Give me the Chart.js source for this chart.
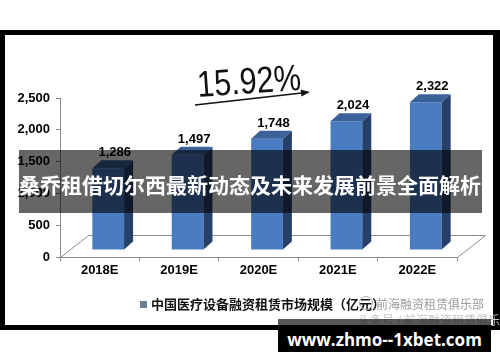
<!DOCTYPE html>
<html>
<head>
<meta charset="utf-8">
<script src="https://cdn.jsdelivr.net/npm/chart.js@4.4.1/dist/chart.umd.min.js"></script>
<style>
  html, body { margin: 0; padding: 0; background: #fff; }
  #wrap { position: relative; width: 500px; height: 362px; overflow: hidden; background: #fff; }
  #frame { position: absolute; left: 0; top: 30px; width: 488px; height: 290px;
           border-style: solid; border-color: #000; border-width: 5px 7px 5px 5px; background: #fff; }
  #chart { position: absolute; left: 0; top: 0; }
  .legend { position: absolute; left: 140px; top: 294px; height: 18px; line-height: 18px;
            font: bold 13px "Noto Sans CJK SC", sans-serif; color: #111; white-space: nowrap; }
  .legend i { display: inline-block; width: 7px; height: 7px; background: #6b7d99; margin-right: 4px; vertical-align: 1px; }
  .mark { position: absolute; font: 12px "Noto Sans CJK SC", sans-serif; color: #9a9a9a; white-space: nowrap; }
  .logo { position: absolute; left: 359px; top: 296px; width: 12px; height: 12px; border: 1px solid #aaa; border-radius: 50%; }
  .banner { position: absolute; left: 19px; top: 150px; width: 463px; height: 63px; background: rgba(0,0,0,0.6);
            color: #fff; font: bold 21px "Noto Sans CJK SC", sans-serif; line-height: 63px; white-space: nowrap; overflow: hidden; }
  .banner span { position: relative; top: 3px; }
  .shade { position: absolute; left: 278px; top: 319px; width: 213px; height: 6px; background: rgba(0,0,0,0.65); }
  .url { position: absolute; left: 278px; top: 325px; width: 213px; height: 27px; background: #000;
         color: #fff; font: bold 17px "Open Sans", sans-serif; text-align: center; line-height: 24px; padding-top: 3px; box-sizing: border-box; }
</style>
</head>
<body>
<div id="wrap">
  <div id="frame"></div>
  <canvas id="chart" width="500" height="362"></canvas>
  <div class="legend"><i></i>中国医疗设备融资租赁市场规模（亿元）</div>
  <div class="logo"></div>
  <div class="mark" style="left:376px;top:295px;">前海融资租赁俱乐部</div>
  <div class="mark" style="left:358px;top:311px;color:#c4c4c4;">头条号 / 前海融资租赁俱乐部</div>
  <div class="banner"><span>桑乔租借切尔西最新动态及未来发展前景全面解析</span></div>
  <div class="shade"></div>
  <div class="url">www.zhmo--1xbet.com</div>
</div>

<script>
/* chart data */
var years = ['2018E', '2019E', '2020E', '2021E', '2022E'];
var marketSize = [1286, 1497, 1748, 2024, 2322];
var yTicks = [0, 500, 1000, 1500, 2000, 2500];
var seriesName = '中国医疗设备融资租赁市场规模（亿元）';
var growthLabel = '15.92%';

/* 3D look */
var C = {
  front: '#4a7cc2',
  side:  '#27406a',
  top:   '#3b6199',
  floor: '#8c8c8c',
};
var BAR_DX = 8.5, BAR_DY = -7;     // bars sit a bit back on the floor
var DEPTH_DX = 9, DEPTH_DY = -8;   // bar depth
var FLOOR_DX = 28, FLOOR_DY = -22; // floor depth

function fmt(v) { return v.toLocaleString('en-US'); }

var bar3d = {
  id: 'bar3d',
  beforeDatasetsDraw: function (chart) {
    var ctx = chart.ctx, a = chart.chartArea;
    ctx.save();
    ctx.strokeStyle = C.floor;
    ctx.lineWidth = 1;
    ctx.beginPath();
    ctx.moveTo(a.left + 0.5, a.bottom + 0.5);
    ctx.lineTo(a.left + FLOOR_DX + 0.5, a.bottom + FLOOR_DY + 0.5);
    ctx.lineTo(a.right + FLOOR_DX + 0.5, a.bottom + FLOOR_DY + 0.5);
    ctx.lineTo(a.right + 0.5, a.bottom + 0.5);
    ctx.stroke();
    ctx.restore();
    ctx.save();
    ctx.translate(BAR_DX, BAR_DY);
  },
  afterDatasetsDraw: function (chart) {
    var ctx = chart.ctx;
    chart.getDatasetMeta(0).data.forEach(function (bar, i) {
      var p = bar.getProps(['x', 'y', 'base', 'width'], true);
      var l = p.x - p.width / 2, r = p.x + p.width / 2;
      // side face
      ctx.fillStyle = C.side;
      ctx.beginPath();
      ctx.moveTo(r, p.y);
      ctx.lineTo(r + DEPTH_DX, p.y + DEPTH_DY);
      ctx.lineTo(r + DEPTH_DX, p.base + DEPTH_DY);
      ctx.lineTo(r, p.base);
      ctx.closePath();
      ctx.fill();
      // top face
      ctx.fillStyle = C.top;
      ctx.beginPath();
      ctx.moveTo(l, p.y);
      ctx.lineTo(l + DEPTH_DX, p.y + DEPTH_DY);
      ctx.lineTo(r + DEPTH_DX, p.y + DEPTH_DY);
      ctx.lineTo(r, p.y);
      ctx.closePath();
      ctx.fill();
      // value label
      ctx.fillStyle = '#000';
      ctx.font = 'bold 13px "Liberation Sans", Arial, sans-serif';
      ctx.textAlign = 'center';
      ctx.textBaseline = 'alphabetic';
      ctx.fillText(fmt(marketSize[i]), p.x + DEPTH_DX / 2 + 2, p.y + DEPTH_DY - 4);
    });
    ctx.restore();
  },
  afterDraw: function (chart) {
    var ctx = chart.ctx;
    // growth annotation
    ctx.save();
    ctx.translate(198, 97);
    ctx.rotate(-0.07);
    ctx.fillStyle = '#111';
    ctx.font = '37px "Liberation Sans", Arial, sans-serif';
    ctx.textAlign = 'left';
    ctx.textBaseline = 'alphabetic';
    ctx.fillText(growthLabel, 0, 0, 104);
    ctx.restore();

    ctx.save();
    ctx.strokeStyle = '#111';
    ctx.fillStyle = '#111';
    ctx.lineWidth = 1.5;
    var x0 = 195, y0 = 105, x1 = 310, y1 = 92;
    var ang = Math.atan2(y1 - y0, x1 - x0);
    ctx.beginPath();
    ctx.moveTo(x0, y0);
    ctx.lineTo(x1 - 6 * Math.cos(ang), y1 - 6 * Math.sin(ang));
    ctx.stroke();
    ctx.translate(x1, y1);
    ctx.rotate(ang);
    ctx.beginPath();
    ctx.moveTo(0, 0);
    ctx.lineTo(-9, -3.5);
    ctx.lineTo(-9, 3.5);
    ctx.closePath();
    ctx.fill();
    ctx.restore();
  }
};

new Chart(document.getElementById('chart'), {
  type: 'bar',
  data: {
    labels: years,
    datasets: [{
      label: seriesName,
      data: marketSize,
      backgroundColor: C.front,
      borderWidth: 0,
      barPercentage: 0.4,
      categoryPercentage: 1,
    }],
  },
  options: {
    responsive: false,
    animation: false,
    layout: { padding: { left: 0, right: 43, top: 98, bottom: 81 } },
    plugins: {
      legend: { display: false },
      tooltip: { enabled: false },
    },
    scales: {
      x: {
        grid: { drawOnChartArea: false, drawTicks: true, tickLength: 4, color: C.floor, offset: true },
        border: { display: true, color: C.floor },
        ticks: { color: '#000', font: { family: '"Liberation Sans", Arial, sans-serif', size: 13, weight: 'bold' }, padding: 2, maxRotation: 0 },
        afterFit: function (s) { s.height = 24; },
      },
      y: {
        min: 0,
        max: 2500,
        afterBuildTicks: function (s) { s.ticks = yTicks.map(function (v) { return { value: v }; }); },
        grid: { drawOnChartArea: false, drawTicks: true, tickLength: 4, color: C.floor },
        border: { display: true, color: C.floor },
        ticks: {
          color: '#000',
          font: { family: '"Liberation Sans", Arial, sans-serif', size: 13, weight: 'bold' },
          padding: 6,
          callback: function (v) { return fmt(v); },
        },
        afterFit: function (s) { s.width = 60; },
      },
    },
  },
  plugins: [bar3d],
});
</script>
</body>
</html>
